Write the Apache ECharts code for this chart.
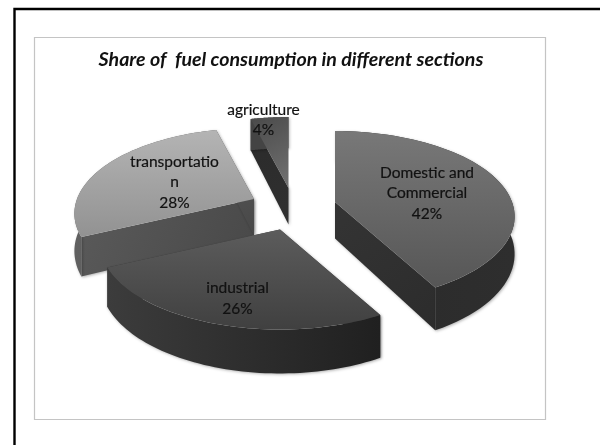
<!DOCTYPE html>
<html><head><meta charset="utf-8">
<style>html,body{margin:0;padding:0;background:#fff}#c{width:600px;height:445px;filter:blur(0.45px)}</style>
<script src="https://cdn.jsdelivr.net/npm/echarts@6/dist/echarts.min.js"></script>
</head><body><div id="c"></div>
<script>
const categories = ['Domestic and Commercial', 'industrial', 'transportation', 'agriculture'];
const shares = [42, 26, 28, 4];
const labelLines = [['Domestic and', 'Commercial'], ['industrial'], ['transportatio', 'n'], ['agriculture']];
const titleText = 'Share of  fuel consumption in different sections';

// projection of the tilted disc
const A = 177, B = 83, Q = 0.17, D = 36.5;
const apex = [[335, 202], [280, 229.5], [254, 199], [288.5, 188]];
const labelAt = [[427, 172.5], [237.5, 288], [174.5, 161.5], [263.5, 110]];
const lineH = 20.6;
const grad = (x, y, x2, y2, c1, c2) => new echarts.graphic.LinearGradient(x, y, x2, y2, [{offset: 0, color: c1}, {offset: 1, color: c2}]);
const look = [
  {top: ['#787878', '#565656'], radial: ['#343434', '#2c2c2c'], wall: ['#2a2a2a', '#2e2e2e']},
  {top: ['#5c5c5c', '#404040'], radial: ['#333', '#333'], wall: ['#3c3c3c', '#202020']},
  {top: ['#b4b4b4', '#929292'], radial: ['#5a5a5a', '#484848'], wall: ['#606060', '#585858']},
  {top: ['#4a4a4a', '#727272'], radial: ['#2a2a2a', '#303030'], wall: ['#444', '#444']}
];
const total = shares.reduce((a, b) => a + b, 0);
const rad = d => d * Math.PI / 180;
function proj(c, th, r) {
  const X = r * Math.sin(th), Y = r * Math.cos(th), w = 1 + Q * Y;
  return {x: c[0] + A * X / w, y: c[1] - B * Y / w, d: D / w};
}
const starts = [];
shares.reduce((acc, v, i) => { starts[i] = acc; return acc + v; }, 0);

function renderItem(params, api) {
  const i = api.value(0);
  const v = api.value(1);
  const a0 = rad(starts[i] / total * 360), a1 = a0 + rad(v / total * 360);
  const c = apex[i], st = look[i];
  const n = 60, arc = [];
  for (let k = 0; k <= n; k++) arc.push(proj(c, a0 + (a1 - a0) * k / n, 1));
  const ctr = proj(c, 0, 0);
  const T = arc.map(p => [p.x, p.y]);
  const Bt = arc.map(p => [p.x, p.y + p.d]);
  const shadow = {shadowColor: 'rgba(0,0,0,0.3)', shadowBlur: 3, shadowOffsetY: 1, shadowOffsetX: 1};
  const face = (pts, fill, extra) => ({type: 'polygon', shape: {points: pts}, style: Object.assign({fill: fill, stroke: null}, extra || {})});
  const kids = [];
  const quad = (p, fill) => face([[ctr.x, ctr.y], [p.x, p.y], [p.x, p.y + p.d], [ctr.x, ctr.y + ctr.d]], fill, shadow);
  kids.push(quad(arc[0], grad(0, 0, 1, 1, st.radial[0], st.radial[1])));
  kids.push(quad(arc[n], grad(0, 0, 1, 1, st.radial[0], st.radial[1])));
  kids.push(face(T.concat(Bt.slice().reverse()), grad(0, 0, 1, 0, st.wall[0], st.wall[1]), shadow));
  kids.push(face([[ctr.x, ctr.y]].concat(T), grad(0, 0, i === 3 ? 1 : 0, 1, st.top[0], st.top[1])));
  const lines = labelLines[i].concat([v + '%']);
  const at = labelAt[i];
  const step = i === 3 ? 20 : lineH;
  lines.forEach((t, k) => kids.push({type: 'text', style: {
    text: t, x: at[0], y: at[1] + k * step, align: 'center', verticalAlign: 'middle',
    font: '400 15.5px Lato, sans-serif', fill: '#111', stroke: '#111', lineWidth: 0.2}}));
  return {type: 'group', children: kids};
}

const chart = echarts.init(document.getElementById('c'), null, {renderer: 'canvas'});
// paint order: far slices first
const order = [3, 2, 0, 1];
chart.setOption({
  animation: false,
  backgroundColor: '#fff',
  title: {text: titleText, left: 286, top: 45, textAlign: 'center',
    textStyle: {fontFamily: 'Lato', fontStyle: 'italic', fontWeight: 'bold', fontSize: 19.6, color: '#111'}},
  graphic: [
    {type: 'rect', z: -2, shape: {x: 14.5, y: 9, width: 640, height: 480}, style: {fill: '#fff', stroke: '#000', lineWidth: 2.4}},
    {type: 'rect', z: -1, shape: {x: 34.5, y: 37.5, width: 511, height: 382}, style: {fill: '#fff', stroke: '#c4c4c4', lineWidth: 1.2}}
  ],
  series: [{
    type: 'custom', coordinateSystem: 'none', renderItem, silent: true,
    data: order.map(i => ({value: [i, shares[i]], name: categories[i]}))
  }]
});
</script></body></html>
